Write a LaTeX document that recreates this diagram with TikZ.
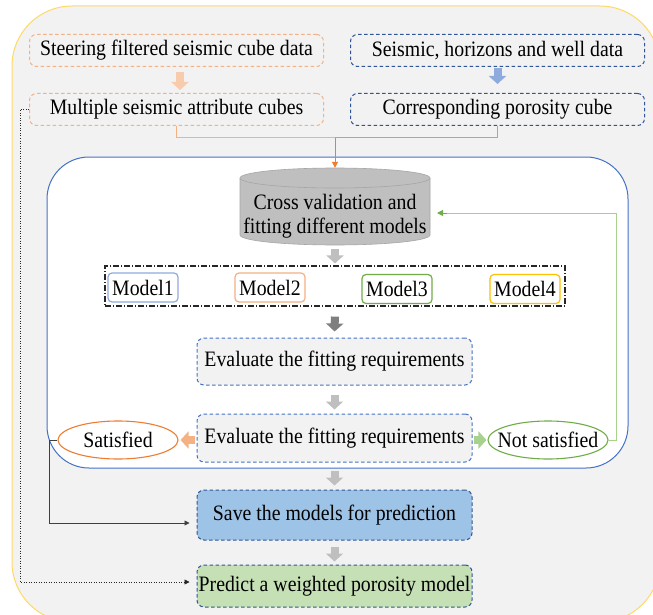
\documentclass[tikz,border=0pt]{standalone}
\usepackage{fontspec}
\setmainfont{Liberation Serif}[FakeStretch=0.9]
\usetikzlibrary{arrows.meta,shapes.geometric,calc}
\definecolor{bgfill}{HTML}{F2F2F2}
\definecolor{bgline}{HTML}{FFD966}
\definecolor{orl}{HTML}{F4B183}
\definecolor{ora}{HTML}{F8CBAD}
\definecolor{ord}{HTML}{ED7D31}
\definecolor{bld}{HTML}{2F5597}
\definecolor{blm}{HTML}{4472C4}
\definecolor{bll}{HTML}{8FAADC}
\definecolor{gnd}{HTML}{70AD47}
\definecolor{gnl}{HTML}{A9D18E}
\definecolor{yel}{HTML}{FFC000}
\definecolor{cylf}{HTML}{BFBFBF}
\definecolor{cylb}{HTML}{A6A6A6}
\definecolor{savef}{HTML}{9DC3E6}
\definecolor{predf}{HTML}{C5E0B4}
\definecolor{darkarrow}{HTML}{7F7F7F}
\begin{document}
\begin{tikzpicture}[x=1pt,y=-1pt,font=\fontsize{22}{24}\selectfont,
  dbox/.style={draw, dash pattern=on 3.5pt off 2.5pt, rounded corners=7pt, line width=1pt, inner sep=0pt, align=center},
  topbox/.style={dbox, minimum width=294pt, minimum height=32pt},
  evbox/.style={dbox, draw=blm, minimum width=275pt},
  modelbox/.style={draw, rounded corners=4pt, line width=1.2pt, fill=white, minimum width=70pt, minimum height=29pt, inner sep=0pt},
  blk/.style={line width=8pt, -{Triangle[width=17pt,length=8pt]}},
  oval/.style={ellipse, draw, line width=1.1pt, fill=white, minimum width=120pt, minimum height=38pt, inner sep=0pt}
]
\useasboundingbox (0,0) rectangle (653,615);
\begin{scope}
\clip (0,0) rectangle (653,615);
\draw[bgline, fill=bgfill, line width=1pt, rounded corners=60pt] (12,6) rectangle (660,622);
\end{scope}

% top boxes
\node[topbox, draw=orl] (b1) at (176.5,50.5) {Steering filtered seismic cube data};
\node[topbox, draw=bld] (b2) at (497.5,50.5) {Seismic, horizons and well data};
\node[topbox, draw=orl] (b3) at (176.5,109.5) {Multiple seismic attribute cubes};
\node[topbox, draw=bld] (b4) at (497.5,109.5) {Corresponding porosity cube};
\draw[blk, ora, shorten <=6pt, shorten >=3pt] (180,66) -- (180,93);
\draw[blk, bll, shorten <=2pt, shorten >=9pt] (497.5,66) -- (497.5,93);

% inner container
\draw[blm, fill=white, line width=1pt, rounded corners=42pt] (47,157) rectangle (628,468);

% cylinder
\node[minimum width=190pt, minimum height=77pt, inner sep=0pt] (cyl) at (335,206.5) {};
\path[fill=cylf, draw=cylb, line width=0.6pt] (240,178) -- (240,235) arc[start angle=180, end angle=0, x radius=95, y radius=10] -- (430,178);
\draw[fill=cylf, draw=cylb, line width=0.6pt] (335,178) ellipse[x radius=95, y radius=10];
\node[align=center] (cyltxt) at (335,216) {Cross validation and\\fitting different models};

% connectors from top
\coordinate (j) at (335,138);
\draw[orl, line width=1pt] (b3.south) |- (j);
\draw[bll, line width=1pt] (b4.south) |- (j);
\draw[ord, line width=1pt, -{Triangle[width=6pt,length=6pt]}] (j) -- (cyl.north);

% models
\node[draw=black!85, dash pattern=on 6pt off 2pt on 1pt off 2pt, line width=1.1pt, minimum width=460pt, minimum height=40pt, inner sep=0pt] (models) at (335,286) {};
\node[modelbox, draw=bll] (m1) at (143,287.5) {Model1};
\node[modelbox, draw=orl] (m2) at (270,287.5) {Model2};
\node[modelbox, draw=gnd] (m3) at (397,289) {Model3};
\node[modelbox, draw=yel] (m4) at (525,289) {Model4};
\draw[blk, cylf, shorten <=4pt, shorten >=2pt] (cyl.south) -- (models.north);

% evaluation
\node[evbox, fill=bgfill, minimum height=47pt] (ev1) at (334.5,361.5) {Evaluate the fitting requirements};
\node[evbox, fill=bgfill, minimum height=48pt] (ev2) at (334.5,438) {Evaluate the fitting requirements};
\draw[blk, darkarrow, shorten <=10pt, shorten >=6pt] (models.south) -- (ev1.north);
\draw[blk, cylf, shorten <=9pt, shorten >=4pt] (ev1.south) -- (ev2.north);

\node[oval, draw=ord] (sat) at (118,440) {};
\node at (sat) {Satisfied};
\node[oval, draw=gnd] (notsat) at (548,440) {};
\node at (notsat) {Not satisfied};
\draw[blk, orl, shorten <=2pt, shorten >=2pt] (ev2.west |- sat) -- (sat.east);
\draw[blk, gnl, shorten <=1pt, shorten >=1pt] (ev2.east |- notsat) -- (notsat.west);

\coordinate (fbend) at (437,213);
\draw[gnl, line width=1pt] (notsat.east) -- (616,440) -- (616,213) -- ($(fbend)+(10,0)$);
\draw[gnd, line width=1pt, -{Triangle[width=6pt,length=6pt]}] ($(fbend)+(10,0)$) -- (fbend);

% save / predict
\node[evbox, draw=bld, fill=savef, minimum height=50pt] (save) at (334.5,515) {Save the models for prediction};
\node[evbox, draw=bld, fill=predf, minimum height=42pt] (pred) at (334.5,586) {Predict a weighted porosity model};
\draw[blk, cylf, shorten <=8pt, shorten >=4pt] (ev2.south) -- (save.north);
\draw[blk, cylf, shorten <=6pt, shorten >=3pt] (save.south) -- (pred.north);

\draw[black!75, line width=0.8pt, -{Triangle[width=5pt,length=5pt]}, shorten >=7pt] (sat.west) -- (49,440) -- (49,523) -- (save.west |- 0,523);
\draw[black!85, line width=0.7pt, dash pattern=on 1pt off 1.5pt, -{Triangle[width=5pt,length=5pt]}, shorten >=7pt] (b3.west) -- (20,109.5) -- (20,582) -- (pred.west |- 0,582);
\end{tikzpicture}
\end{document}
